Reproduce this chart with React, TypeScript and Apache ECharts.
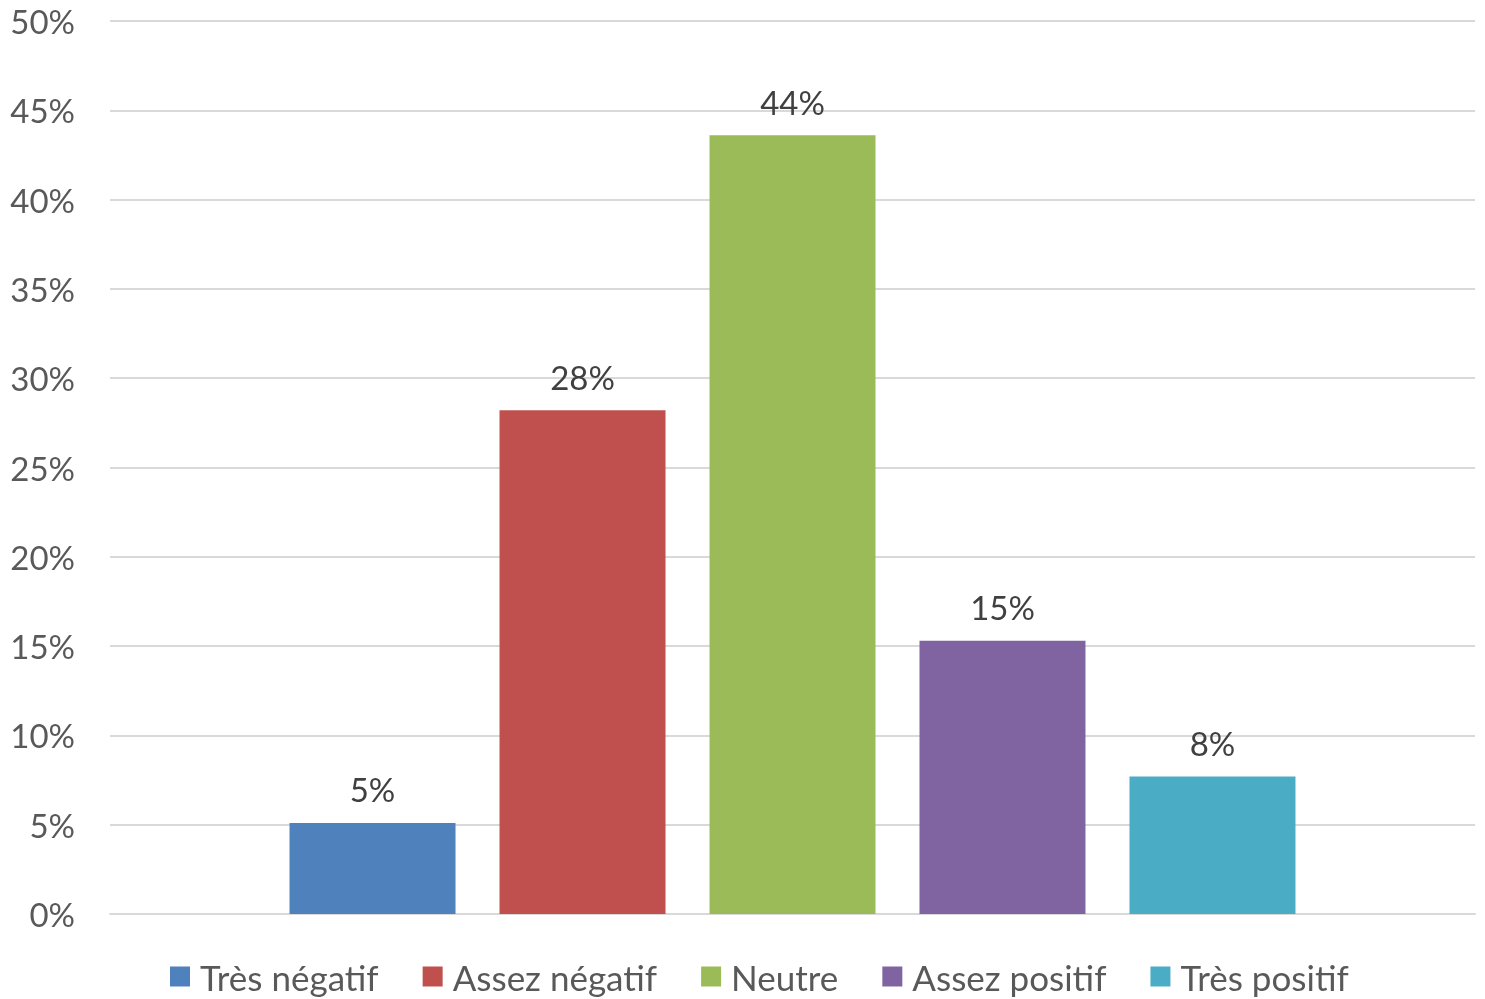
import React, { useEffect, useRef } from "react";
import * as echarts from "echarts";

const seriesNames = ["Très négatif", "Assez négatif", "Neutre", "Assez positif", "Très positif"];
const seriesValues = [0.051, 0.282, 0.436, 0.153, 0.077];
const seriesColors = ["#4f81bd", "#c0504d", "#9bbb59", "#8064a2", "#4bacc6"];
const yTicks = { min: 0, max: 0.5, interval: 0.05 };

const FONT = "Lato, 'Open Sans', sans-serif";
const TEXT = "#595959";

export default function App() {
  const ref = useRef<HTMLDivElement>(null);
  useEffect(() => {
    if (!ref.current) return;
    const chart = echarts.init(ref.current, undefined, { renderer: "svg" });
    chart.setOption({
      animation: false,
      grid: { left: 110, right: 10, top: 21, bottom: 85 },
      legend: {
        bottom: 0,
        left: 165,
        itemWidth: 20,
        itemHeight: 20,
        itemGap: 44,
        icon: "rect",
        textStyle: { fontFamily: FONT, fontSize: 35, color: TEXT, padding: [0, 0, 0, 5] },
        data: seriesNames,
      },
      xAxis: {
        type: "category",
        data: [""],
        axisLine: { show: true, lineStyle: { color: "#d9d9d9", width: 2 } },
        axisTick: { show: false },
        axisLabel: { show: false },
      },
      yAxis: {
        type: "value",
        min: yTicks.min,
        max: yTicks.max,
        interval: yTicks.interval,
        axisLine: { show: false },
        axisTick: { show: false },
        axisLabel: {
          fontFamily: FONT,
          fontSize: 33,
          color: TEXT,
          margin: 35,
          formatter: (v: number) => Math.round(v * 100) + "%",
        },
        splitLine: { lineStyle: { color: "#d9d9d9", width: 2 } },
      },
      series: seriesNames.map((name, i) => ({
        name,
        type: "bar",
        data: [seriesValues[i]],
        barWidth: 166,
        barGap: "26.5%",
        itemStyle: { color: seriesColors[i] },
        label: {
          show: true,
          position: "top",
          distance: 17,
          fontFamily: FONT,
          fontSize: 33,
          color: "#404040",
          formatter: (p: any) => Math.round(p.value * 100) + "%",
        },
      })),
    });
    return () => chart.dispose();
  }, []);
  return (
    <div
      ref={ref}
      style={{ position: "fixed", left: 0, top: 0, width: 1485, height: 999 }}
    />
  );
}
